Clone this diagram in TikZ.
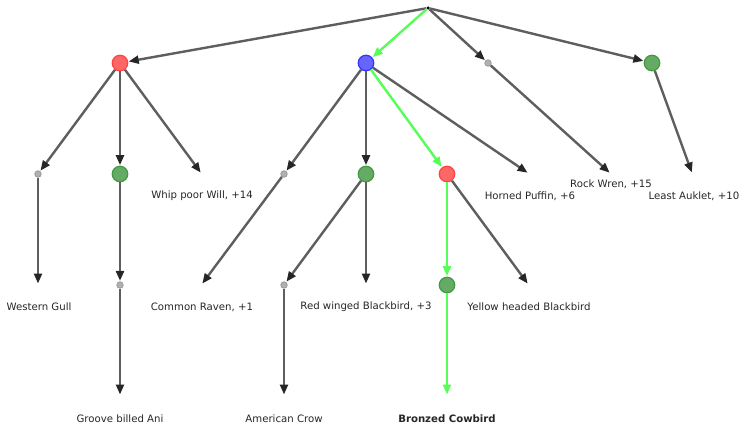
\documentclass[tikz,border=0pt]{standalone}
\usepackage{fontspec}
\setmainfont{DejaVu Sans}
\usetikzlibrary{arrows.meta}
\definecolor{edgegray}{HTML}{5E5E5E}
\definecolor{tipgray}{HTML}{262626}
\definecolor{pathgreen}{HTML}{55FF55}
\definecolor{redfill}{HTML}{FF6666}
\definecolor{redline}{HTML}{FF4444}
\definecolor{bluefill}{HTML}{6666FF}
\definecolor{blueline}{HTML}{3333FF}
\definecolor{greenfill}{HTML}{66AA66}
\definecolor{greenline}{HTML}{409A40}
\definecolor{dotfill}{HTML}{B0B0B0}
\definecolor{dotline}{HTML}{9A9A9A}
\definecolor{labeltext}{HTML}{262626}
\begin{document}
\begin{tikzpicture}[x=1bp,y=-1bp,
  big/.style={circle,inner sep=0pt,minimum size=15.5bp,line width=1.2bp},
  rednode/.style={big,fill=redfill,draw=redline},
  bluenode/.style={big,fill=bluefill,draw=blueline},
  greennode/.style={big,fill=greenfill,draw=greenline},
  graydot/.style={circle,inner sep=0pt,minimum size=6.5bp,fill=dotfill,draw=dotline,line width=0.8bp},
  rootdot/.style={circle,inner sep=0pt,minimum size=3.5bp,fill=black},
  lbl/.style={font=\fontsize{10.2}{12}\selectfont,text=labeltext,inner sep=0pt},
  edge/.style={draw=edgegray,line width=2.4bp,
    -{Triangle[length=10bp,width=8bp,fill=tipgray,color=tipgray]},shorten >=0.5bp},
  hot/.style={draw=pathgreen,line width=2.4bp,
    -{Triangle[length=10bp,width=8bp,fill=pathgreen,color=pathgreen]},shorten >=0.5bp}
]
\useasboundingbox (0,0) rectangle (745,429);

% level 0 and 1
\node[rootdot] (root) at (428,8) {};
\node[rednode] (r1) at (120,63) {};
\node[bluenode] (b1) at (366,63) {};
\node[graydot] (g1) at (488,63) {};
\node[greennode] (n1) at (652,63) {};

% level 2
\node[graydot] (gull) at (38,174) {};
\node[greennode] (ani1) at (120,174) {};
\coordinate (whip) at (201,173);
\node[graydot] (raven) at (284,174) {};
\node[greennode] (black) at (366,174) {};
\node[rednode] (cow1) at (447,174) {};
\coordinate (puffin) at (528,173);
\coordinate (wren) at (610,173);
\coordinate (auklet) at (692,173);

% level 3
\coordinate (gullend) at (38,284);
\node[graydot] (ani2) at (120,285) {};
\coordinate (ravenend) at (202,284);
\node[graydot] (crow) at (284,285) {};
\coordinate (redwing) at (366,284);
\node[greennode] (cow2) at (447,285) {};
\coordinate (yellow) at (528,284);

% level 4
\coordinate (aniend) at (120,395);
\coordinate (crowend) at (284,395);
\coordinate (cowend) at (447,395);

% connectors
\draw[edge] (root) -- (r1);
\draw[hot] (root) -- (b1);
\draw[edge] (root) -- (g1);
\draw[edge] (root) -- (n1);

\draw[edge] (r1) -- (gull);
\draw[edge] (r1) -- (ani1);
\draw[edge] (r1) -- (whip);
\draw[edge] (b1) -- (raven);
\draw[edge] (b1) -- (black);
\draw[hot] (b1) -- (cow1);
\draw[edge] (b1) -- (puffin);
\draw[edge] (g1) -- (wren);
\draw[edge] (n1) -- (auklet);

\draw[edge] (gull) -- (gullend);
\draw[edge] (ani1) -- (ani2);
\draw[edge] (raven) -- (ravenend);
\draw[edge] (black) -- (crow);
\draw[edge] (black) -- (redwing);
\draw[hot] (cow1) -- (cow2);
\draw[edge] (cow1) -- (yellow);

\draw[edge] (ani2) -- (aniend);
\draw[edge] (crow) -- (crowend);
\draw[hot] (cow2) -- (cowend);

% labels
\node[lbl] (lwhip) at (202,196) {Whip poor Will, +14};
\node[lbl] (lpuffin) at (530,196) {Horned Puffin, +6};
\node[lbl] (lwren) at (611,184) {Rock Wren, +15};
\node[lbl] (lauklet) at (694,196) {Least Auklet, +10};
\node[lbl] (lgull) at (39,307) {Western Gull};
\node[lbl] (lraven) at (202,307) {Common Raven, +1};
\node[lbl] (lredwing) at (366,307) {Red winged Blackbird, +3};
\node[lbl] (lyellow) at (529,307) {Yellow headed Blackbird};
\node[lbl] (lani) at (120,419) {Groove billed Ani};
\node[lbl] (lcrow) at (284,419) {American Crow};
\node[lbl,font=\fontsize{10.2}{12}\selectfont\bfseries] (lcow) at (447,419) {Bronzed Cowbird};
\end{tikzpicture}
\end{document}
